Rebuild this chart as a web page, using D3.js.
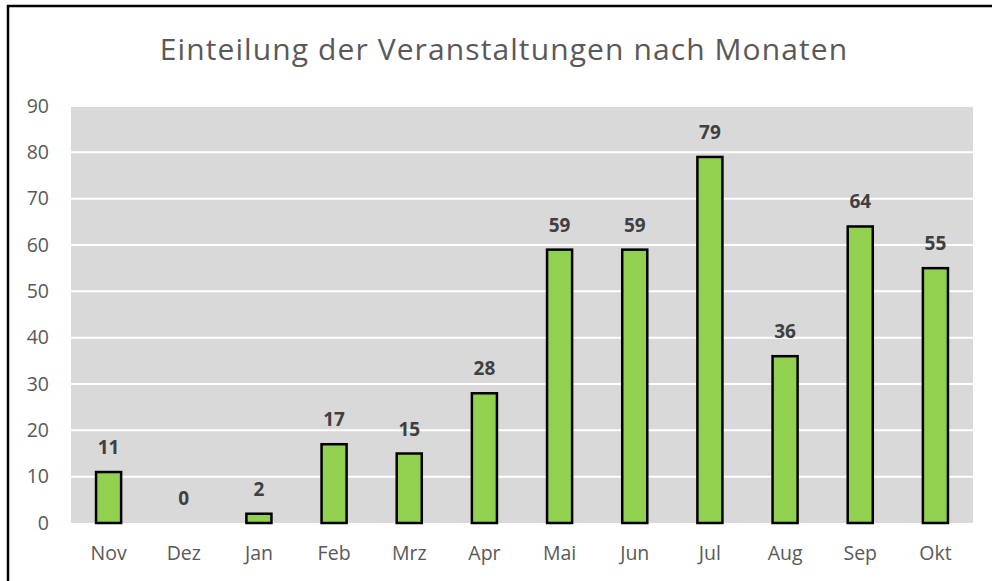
<!DOCTYPE html>
<html>
<head>
<meta charset="utf-8">
<script src="https://cdn.jsdelivr.net/npm/d3@7"></script>
<style>
  body { margin: 0; background: #fff; }
  svg { display: block; font-family: "Open Sans", sans-serif; }
</style>
</head>
<body>
<svg id="chart" width="992" height="581"></svg>
<script>
// data
var months = ["Nov", "Dez", "Jan", "Feb", "Mrz", "Apr", "Mai", "Jun", "Jul", "Aug", "Sep", "Okt"];
var counts = [11, 0, 2, 17, 15, 28, 59, 59, 79, 36, 64, 55];
var yTicks = [0, 10, 20, 30, 40, 50, 60, 70, 80, 90];
var title = "Einteilung der Veranstaltungen nach Monaten";

var data = months.map(function(m, i) { return {month: m, value: counts[i]}; });

var svg = d3.select("#chart");
var margin = {top: 106, right: 19, bottom: 58, left: 71};
var width = +svg.attr("width") - margin.left - margin.right;
var height = +svg.attr("height") - margin.top - margin.bottom;

// frame (only top + left edges are visible in the crop)
svg.append("rect")
    .attr("x", 8).attr("y", 6)
    .attr("width", 1000).attr("height", 600)
    .attr("fill", "none")
    .attr("stroke", "#000")
    .attr("stroke-width", 2.5);

svg.append("text")
    .attr("x", 504)
    .attr("y", 60)
    .attr("text-anchor", "middle")
    .attr("font-size", 30)
    .attr("letter-spacing", 1.1)
    .attr("fill", "#595959")
    .text(title);

var g = svg.append("g").attr("transform", "translate(" + margin.left + "," + margin.top + ")");

var xscale = d3.scaleBand()
    .domain(months)
    .range([0, width])
    .paddingInner(2 / 3)
    .paddingOuter(1 / 3);

var yscale = d3.scaleLinear()
    .domain([0, 90])
    .range([height, 0]);

// plot area
g.append("rect")
    .attr("width", width)
    .attr("height", height)
    .attr("fill", "#d9d9d9");

// gridlines
g.append("g")
    .selectAll("line")
    .data(yTicks.filter(function(d) { return d > 0; }))
    .enter().append("line")
    .attr("x1", 0).attr("x2", width)
    .attr("y1", function(d) { return yscale(d); })
    .attr("y2", function(d) { return yscale(d); })
    .attr("stroke", "#fff")
    .attr("stroke-width", 2);

// y axis
var yAxis = g.append("g")
    .call(d3.axisLeft(yscale).tickValues(yTicks).tickSize(0).tickPadding(22));
yAxis.select(".domain").remove();
yAxis.selectAll("text")
    .attr("font-family", "Open Sans, sans-serif")
    .attr("font-size", 19.5)
    .attr("fill", "#595959");

// x axis
var xAxis = g.append("g")
    .attr("transform", "translate(0," + height + ")")
    .call(d3.axisBottom(xscale).tickSize(0).tickPadding(23));
xAxis.select(".domain").remove();
xAxis.selectAll("text")
    .attr("font-family", "Open Sans, sans-serif")
    .attr("font-size", 19.5)
    .attr("fill", "#595959");

// bars
g.append("g")
    .selectAll("rect")
    .data(data.filter(function(d) { return d.value > 0; }))
    .enter().append("rect")
    .attr("x", function(d) { return xscale(d.month); })
    .attr("y", function(d) { return yscale(d.value); })
    .attr("width", xscale.bandwidth())
    .attr("height", function(d) { return yscale(0) - yscale(d.value); })
    .attr("fill", "#92d050")
    .attr("stroke", "#000")
    .attr("stroke-width", 2.5);

// value labels
g.append("g")
    .selectAll("text")
    .data(data)
    .enter().append("text")
    .attr("x", function(d) { return xscale(d.month) + xscale.bandwidth() / 2; })
    .attr("y", function(d) { return yscale(d.value) - 18; })
    .attr("text-anchor", "middle")
    .attr("font-size", 19)
    .attr("font-weight", "bold")
    .attr("fill", "#404040")
    .text(function(d) { return d.value; });
</script>
</body>
</html>
